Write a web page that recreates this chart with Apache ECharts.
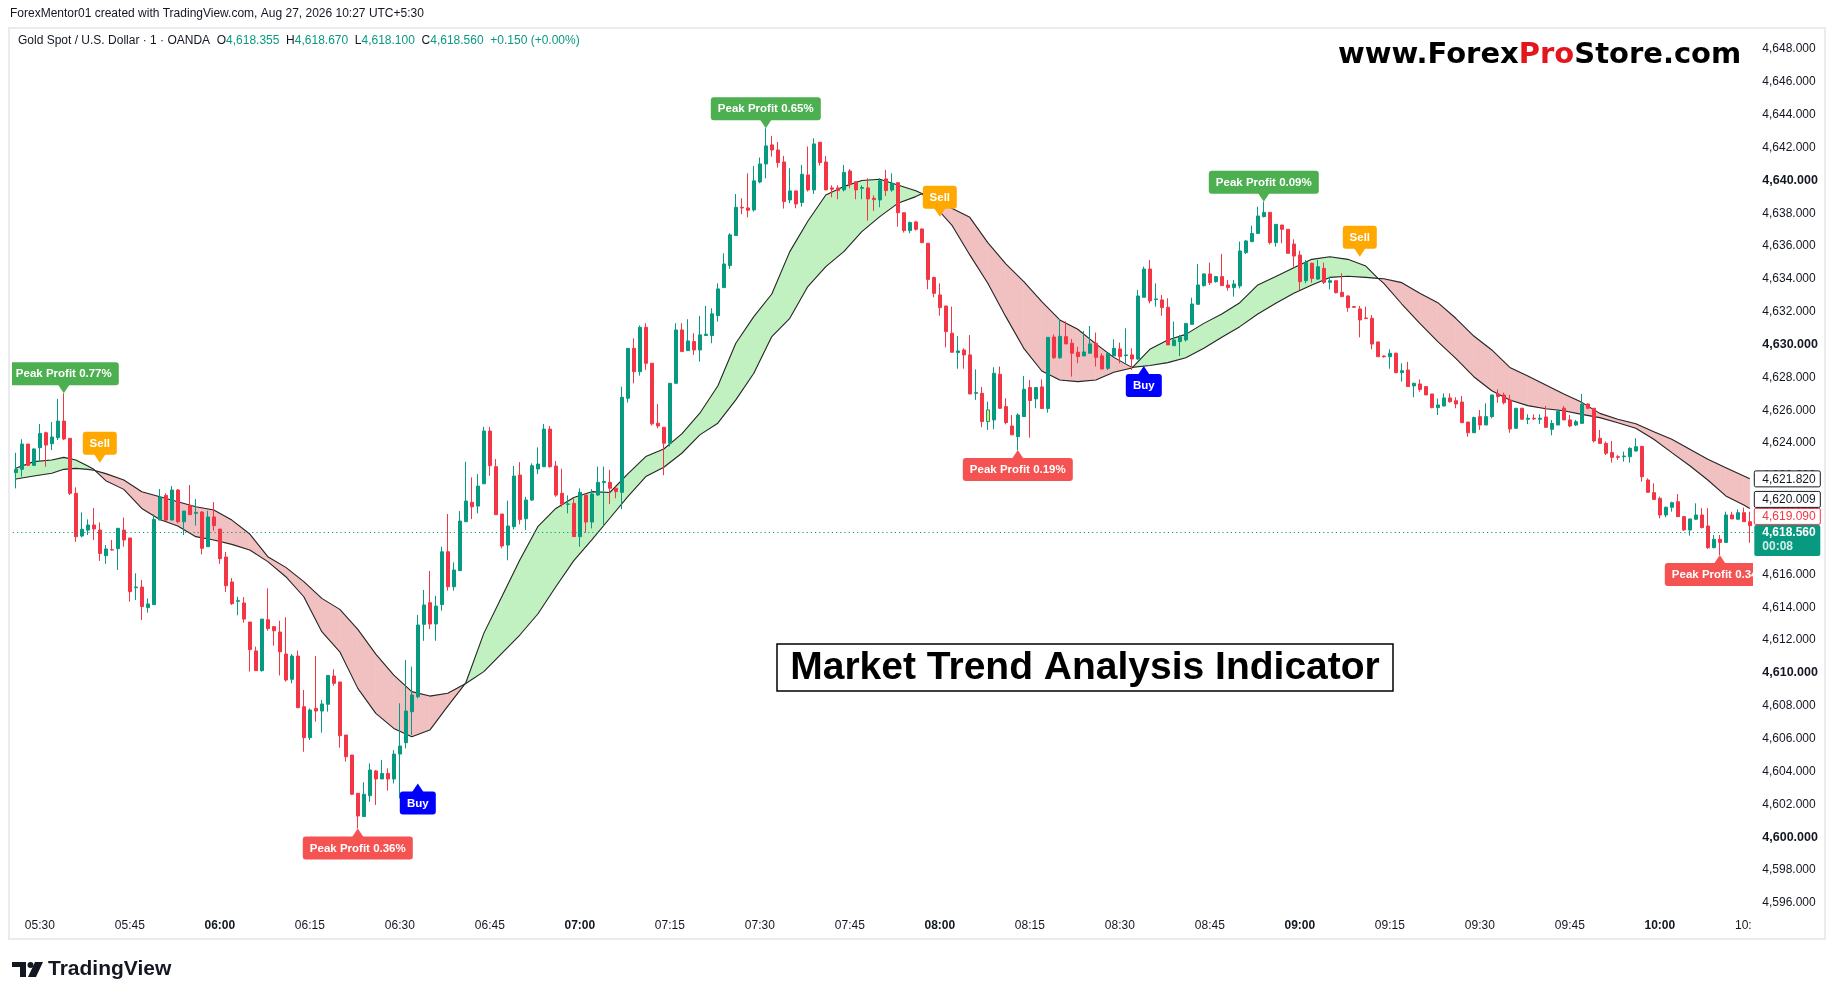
<!DOCTYPE html>
<html><head><meta charset="utf-8">
<script src="https://cdn.jsdelivr.net/npm/echarts@6/dist/echarts.min.js"></script>
<style>html,body{margin:0;padding:0;background:#fff}#c{width:1835px;height:1000px}</style>
</head><body><div id="c"></div>
<script>
// ---------------- DATA ----------------
const HEADER_TEXT = 'ForexMentor01 created with TradingView.com, Aug 27, 2026 10:27 UTC+5:30';
const SYMBOL_NAME = 'Gold Spot / U.S. Dollar · 1 · OANDA';
const OHLC_KEYS = ['O', 'H', 'L', 'C'];
const OHLC_VALUES = ['4,618.355', '4,618.670', '4,618.100', '4,618.560'];
const CHANGE_TEXT = '+0.150 (+0.00%)';
const WATERMARK_PARTS = ['www.Forex', 'Pro', 'Store.com'];
const TITLE_TEXT = 'Market Trend Analysis Indicator';
const BRAND_TEXT = 'TradingView';

const START_TIME = '05:26';   // first 1-minute bar

const openVals = [
4622.20,4622.40,4623.94,4622.64,4623.72,4624.63,4623.96,4624.33,4625.34,4624.29,
4620.94,4618.34,4618.70,4619.01,4618.70,4617.14,4617.51,4617.57,4618.70,4618.22,
4615.19,4615.23,4613.98,4614.16,4619.31,4620.82,4619.31,4621.14,4619.21,4620.19,
4619.72,4619.80,4617.69,4619.50,4618.76,4617.06,4615.54,4614.36,4614.26,4613.10,
4611.34,4610.14,4613.24,4612.82,4612.49,4611.15,4609.61,4611.03,4607.94,4606.06,
4607.84,4607.68,4608.09,4609.81,4609.45,4606.22,4605.00,4602.67,4601.25,4602.52,
4604.03,4603.54,4603.88,4603.54,4605.06,4605.75,4607.64,4608.55,4612.96,4614.28,
4612.98,4614.16,4617.38,4615.25,4616.23,4619.21,4620.39,4620.16,4621.52,4624.73,
4622.56,4619.68,4617.79,4618.91,4622.05,4619.39,4620.53,4622.42,4622.56,4624.85,
4622.60,4620.94,4620.27,4620.33,4618.30,4620.83,4619.19,4620.84,4621.59,4621.61,
4621.25,4621.00,4626.73,4629.77,4628.35,4631.05,4628.86,4625.21,4624.96,4623.99,
4627.64,4630.89,4629.63,4630.18,4629.67,4630.55,4630.55,4631.76,4633.47,4634.81,
4636.64,4638.36,4638.32,4638.20,4639.90,4641.00,4642.16,4641.85,4641.12,4638.81,
4639.36,4638.65,4640.33,4639.42,4642.32,4641.12,4639.54,4639.54,4639.42,4640.57,
4639.92,4639.52,4639.54,4638.91,4638.81,4640.09,4639.41,4639.86,4638.03,4636.94,
4637.47,4637.04,4636.17,4634.08,4633.02,4632.35,4630.69,4629.51,4629.67,4629.37,
4627.03,4627.03,4625.31,4625.41,4628.19,4626.22,4625.04,4624.39,4625.61,4627.38,
4626.69,4627.42,4626.10,4630.46,4629.20,4630.48,4630.08,4629.53,4629.31,4629.47,
4630.08,4629.31,4628.55,4629.31,4629.73,4629.33,4629.37,4629.12,4632.88,4634.60,
4632.74,4632.72,4632.27,4629.93,4630.18,4630.28,4631.23,4632.45,4633.59,4634.30,
4633.83,4634.14,4633.63,4633.47,4633.57,4635.60,4636.27,4636.77,4637.79,4638.05,
4636.21,4637.28,4637.02,4636.12,4635.45,4633.89,4634.95,4633.99,4634.64,4633.79,
4633.89,4633.18,4632.96,4632.31,4632.17,4631.62,4631.60,4630.16,4629.30,4629.26,
4629.47,4628.29,4628.45,4627.48,4627.60,4627.44,4626.99,4626.16,4626.26,4626.75,
4626.58,4626.50,4625.28,4624.63,4625.61,4625.10,4625.61,4626.99,4626.93,4626.62,
4624.90,4626.12,4625.45,4625.51,4625.45,4625.59,4624.84,4625.10,4626.12,4625.41,
4625.10,4625.20,4626.38,4626.12,4624.29,4623.98,4623.42,4623.17,4623.17,4623.17,
4623.52,4623.80,4621.75,4620.98,4620.63,4619.62,4620.09,4620.43,4619.52,4618.71,
4619.36,4619.62,4618.95,4617.63,4618.14,4617.95,4619.62,4619.36,4619.76,4619.21];
const highVals = [
4623.41,4624.23,4623.94,4623.68,4625.16,4624.69,4625.28,4626.68,4627.03,4624.29,
4621.30,4619.78,4619.35,4620.04,4619.17,4617.79,4618.10,4618.81,4619.46,4618.22,
4616.07,4615.66,4614.54,4619.66,4621.20,4620.94,4621.38,4621.20,4619.86,4621.45,
4620.59,4619.86,4619.88,4620.41,4618.76,4617.37,4615.78,4614.64,4614.62,4613.10,
4611.60,4613.28,4615.15,4612.82,4613.18,4613.39,4611.15,4611.36,4608.96,4607.84,
4611.03,4608.35,4609.85,4610.22,4609.45,4606.22,4605.00,4602.67,4603.34,4604.49,
4604.09,4604.70,4604.19,4605.30,4608.15,4610.79,4610.38,4613.53,4615.05,4616.21,
4614.70,4617.69,4619.68,4616.73,4619.86,4622.86,4621.91,4622.11,4624.99,4624.99,
4623.03,4619.68,4620.49,4622.60,4622.84,4620.73,4622.76,4623.74,4625.16,4625.04,
4622.91,4622.44,4620.81,4620.63,4621.24,4620.83,4621.20,4622.57,4622.57,4622.37,
4621.35,4627.44,4629.77,4630.38,4631.16,4631.30,4628.86,4626.38,4624.96,4627.64,
4631.30,4631.30,4631.54,4630.69,4631.74,4632.35,4632.21,4633.73,4635.56,4636.78,
4639.17,4638.91,4640.43,4640.88,4641.39,4643.17,4642.71,4642.34,4641.49,4640.74,
4639.36,4640.94,4642.06,4642.56,4642.32,4641.49,4639.70,4639.70,4640.94,4640.68,
4639.92,4639.70,4640.13,4639.09,4640.13,4640.64,4640.43,4639.86,4638.03,4637.49,
4637.53,4637.08,4636.17,4634.14,4633.73,4632.35,4632.31,4630.52,4629.77,4630.58,
4628.49,4627.42,4626.52,4628.62,4628.66,4626.73,4625.71,4625.81,4628.09,4627.84,
4627.42,4627.88,4630.44,4630.62,4631.54,4631.42,4630.34,4629.87,4630.83,4631.13,
4630.73,4629.47,4629.47,4630.32,4630.12,4630.99,4629.77,4633.33,4634.75,4635.15,
4633.73,4633.02,4632.82,4631.40,4630.58,4631.29,4632.86,4634.91,4634.34,4634.99,
4634.18,4635.52,4633.93,4633.93,4636.27,4636.37,4637.24,4638.40,4638.70,4638.05,
4637.32,4637.28,4637.02,4636.41,4635.72,4635.15,4634.99,4635.15,4634.99,4634.14,
4633.89,4634.34,4633.00,4632.35,4632.35,4632.31,4631.80,4630.16,4629.34,4629.71,
4629.51,4628.86,4628.94,4627.68,4627.88,4627.44,4626.99,4626.71,4627.03,4627.03,
4626.79,4626.87,4625.28,4625.61,4626.01,4626.42,4626.93,4627.27,4627.07,4626.93,
4626.12,4626.12,4625.75,4625.75,4625.75,4626.26,4625.41,4626.01,4626.26,4625.71,
4625.41,4626.99,4626.42,4626.12,4624.80,4624.09,4624.13,4623.27,4623.48,4623.74,
4624.29,4623.82,4621.85,4621.55,4620.74,4620.13,4620.43,4620.90,4619.56,4619.38,
4620.33,4620.03,4620.03,4618.40,4618.40,4619.82,4619.82,4619.96,4620.07,4619.82];
const lowVals = [
4621.24,4621.95,4622.60,4622.60,4622.87,4622.56,4623.58,4624.19,4624.19,4620.84,
4617.99,4618.26,4618.40,4618.10,4616.82,4616.65,4617.45,4616.27,4617.69,4614.34,
4614.44,4613.22,4613.67,4614.16,4619.31,4619.25,4619.31,4619.11,4618.40,4619.64,
4618.97,4617.22,4617.69,4618.66,4616.65,4614.93,4614.14,4613.51,4613.06,4610.08,
4610.14,4610.08,4612.57,4611.66,4609.85,4609.47,4609.37,4607.88,4605.20,4605.91,
4607.03,4606.36,4607.64,4609.22,4605.45,4604.60,4602.57,4600.53,4601.25,4602.16,
4601.96,4603.54,4602.83,4603.27,4602.36,4605.41,4606.22,4608.45,4611.96,4612.67,
4611.96,4613.79,4615.01,4615.01,4616.23,4619.21,4619.37,4619.72,4621.52,4622.01,
4619.64,4617.59,4616.86,4618.74,4619.05,4618.70,4620.47,4622.11,4622.56,4622.50,
4620.73,4620.12,4619.72,4618.30,4617.69,4618.54,4618.80,4620.78,4618.91,4620.29,
4620.64,4619.97,4626.47,4627.64,4628.11,4628.46,4625.07,4624.90,4622.04,4623.79,
4627.64,4629.57,4629.63,4629.37,4628.96,4630.55,4630.08,4631.40,4633.47,4634.61,
4636.64,4637.94,4637.75,4638.10,4639.82,4640.13,4641.45,4640.78,4638.28,4638.61,
4638.30,4638.40,4639.32,4639.17,4640.90,4639.42,4638.97,4638.85,4639.32,4639.52,
4638.85,4638.85,4637.55,4638.14,4638.36,4639.05,4639.31,4637.18,4636.82,4636.78,
4636.94,4636.17,4633.37,4632.88,4631.76,4629.83,4629.53,4628.53,4628.53,4626.99,
4626.63,4624.96,4624.80,4624.84,4626.08,4625.14,4624.50,4623.58,4625.61,4624.33,
4626.12,4626.10,4625.85,4629.12,4629.12,4630.04,4628.05,4628.86,4629.31,4629.47,
4628.66,4628.51,4628.45,4629.27,4628.86,4628.86,4628.45,4629.06,4632.88,4632.51,
4632.31,4631.76,4629.98,4629.93,4629.30,4630.18,4631.23,4632.45,4633.53,4633.63,
4633.77,4633.59,4633.28,4632.92,4633.42,4635.52,4636.23,4636.77,4637.75,4636.10,
4635.96,4636.17,4635.56,4634.74,4633.32,4633.73,4633.77,4633.93,4633.69,4633.36,
4633.12,4632.92,4632.00,4632.23,4630.44,4631.58,4629.71,4629.26,4629.20,4628.53,
4628.25,4627.74,4627.44,4626.79,4627.13,4626.93,4626.12,4625.71,4626.22,4626.46,
4626.12,4625.24,4624.39,4624.63,4624.80,4625.10,4625.51,4626.46,4626.36,4624.63,
4624.86,4625.45,4625.16,4625.41,4625.16,4624.96,4624.47,4625.10,4625.41,4624.96,
4625.04,4625.20,4626.07,4624.04,4623.98,4623.27,4622.81,4622.97,4622.87,4622.81,
4623.48,4621.65,4620.98,4620.53,4619.42,4619.48,4619.82,4619.52,4618.65,4618.36,
4619.32,4618.81,4617.55,4617.59,4617.18,4617.95,4619.38,4619.36,4619.21,4617.93];
const closeVals = [
4622.40,4623.94,4622.64,4623.64,4624.59,4623.88,4624.37,4625.34,4624.25,4620.94,
4618.30,4618.75,4619.01,4618.77,4617.28,4617.55,4617.49,4618.81,4618.10,4614.95,
4615.23,4614.04,4614.20,4619.35,4620.71,4619.31,4621.14,4619.21,4619.86,4619.64,
4619.78,4617.59,4619.50,4618.97,4616.96,4615.31,4614.22,4614.40,4613.28,4611.42,
4610.14,4613.28,4612.70,4612.57,4611.29,4609.57,4611.03,4607.88,4606.06,4607.74,
4607.68,4608.11,4609.85,4609.37,4606.18,4604.90,4602.61,4601.29,4602.61,4604.09,
4603.54,4603.88,4603.54,4605.06,4605.55,4607.68,4608.66,4612.92,4614.14,4612.98,
4614.07,4617.38,4615.25,4616.27,4619.25,4620.47,4620.12,4621.38,4624.73,4622.62,
4619.64,4617.73,4618.95,4621.99,4619.35,4620.53,4622.62,4622.72,4624.85,4622.56,
4620.83,4620.27,4620.29,4618.30,4621.00,4619.19,4620.90,4621.61,4621.66,4621.25,
4621.04,4626.79,4629.77,4628.35,4631.05,4628.86,4625.17,4625.04,4623.99,4627.64,
4630.89,4629.57,4630.22,4629.67,4630.59,4630.63,4631.87,4633.39,4634.91,4636.68,
4638.36,4638.32,4638.18,4639.97,4641.00,4642.10,4641.85,4641.08,4638.71,4639.36,
4638.56,4640.37,4639.42,4642.22,4641.08,4639.42,4639.46,4639.38,4640.49,4639.74,
4639.42,4639.56,4638.87,4638.83,4639.97,4639.38,4639.82,4638.03,4636.94,4637.43,
4637.02,4636.21,4633.97,4633.12,4632.25,4630.79,4629.53,4629.61,4629.37,4626.99,
4627.07,4625.31,4626.02,4628.25,4626.12,4625.25,4624.50,4625.71,4627.28,4626.59,
4627.38,4626.10,4630.44,4629.20,4630.50,4630.04,4629.47,4629.27,4629.55,4630.04,
4629.22,4628.51,4629.47,4629.77,4629.27,4629.37,4629.12,4632.96,4634.60,4632.66,
4632.78,4632.25,4629.98,4630.28,4630.44,4631.29,4632.47,4633.63,4634.30,4633.77,
4634.14,4633.59,4633.47,4633.69,4635.70,4636.31,4636.77,4637.83,4638.05,4636.21,
4637.32,4637.02,4635.56,4635.39,4633.83,4634.99,4634.03,4634.74,4633.79,4633.89,
4633.16,4632.92,4632.25,4632.27,4631.50,4631.58,4630.03,4629.26,4629.26,4629.47,
4628.29,4628.41,4627.44,4627.64,4627.27,4626.93,4626.16,4626.32,4626.75,4626.52,
4626.38,4625.24,4624.63,4625.55,4625.10,4625.61,4626.93,4626.83,4626.46,4624.86,
4626.12,4625.45,4625.51,4625.47,4625.51,4624.96,4625.20,4625.93,4625.41,4625.04,
4625.30,4626.36,4626.12,4624.13,4623.98,4623.38,4623.13,4623.13,4623.21,4623.68,
4623.78,4621.95,4621.00,4620.57,4619.62,4620.09,4620.37,4619.52,4618.71,4619.38,
4619.62,4618.85,4617.63,4618.14,4617.95,4619.62,4619.38,4619.76,4619.21,4618.97];

// trend band (two smoothed lines), sampled at these bar indices
const bandIdx = [0,3,6,8,10,12,13,15,18,21,24,27,30,33,36,39,42,45,48,51,54,57,60,63,66,69,72,75,78,81,84,87,90,93,96,99,102,105,108,111,114,117,120,123,126,129,132,135,138,141,144,147,150,151,153,156,159,162,165,168,171,174,177,180,183,186,189,192,195,198,201,204,207,210,213,216,219,222,225,227,228,231,234,237,240,243,246,249,252,255,258,261,264,267,270,273,276,279,282,285,288,289];
const bandFast = [4622.46,4622.87,4622.97,4623.13,4622.97,4622.60,4622.40,4621.71,4621.18,4620.02,4619.35,4618.95,4618.30,4618.10,4617.83,4617.49,4616.78,4615.86,4614.64,4612.51,4611.29,4609.06,4607.54,4606.62,4606.12,4606.52,4607.98,4609.40,4612.41,4614.64,4616.88,4618.91,4620.02,4620.69,4621.04,4620.99,4622.12,4623.18,4623.64,4624.56,4625.82,4627.48,4630.08,4631.70,4633.08,4635.66,4637.51,4639.11,4639.62,4639.99,4640.07,4639.72,4639.37,4639.20,4638.50,4637.28,4635.46,4633.73,4631.70,4629.77,4628.39,4627.84,4627.74,4627.84,4628.31,4628.57,4629.71,4630.28,4630.62,4631.29,4631.86,4632.55,4633.63,4634.14,4634.68,4635.19,4635.35,4635.19,4634.78,4634.05,4633.73,4632.47,4631.29,4630.18,4629.16,4628.04,4627.19,4626.62,4626.28,4626.09,4625.97,4625.75,4625.55,4625.24,4624.90,4624.23,4623.42,4622.62,4621.75,4620.78,4620.23,4620.01];
const bandSlow = [4621.81,4621.99,4622.16,4622.40,4622.46,4622.40,4622.34,4622.14,4621.75,4621.04,4620.73,4620.43,4620.12,4619.92,4619.31,4618.46,4617.08,4616.43,4615.56,4614.54,4613.87,4612.65,4611.15,4609.87,4608.86,4608.59,4608.76,4609.36,4610.08,4611.19,4612.31,4613.59,4615.25,4616.84,4618.10,4619.42,4620.74,4621.96,4622.53,4623.38,4624.50,4625.21,4626.63,4628.25,4630.49,4631.60,4633.53,4634.75,4635.66,4636.88,4637.79,4638.60,4639.01,4639.18,4638.97,4638.30,4637.75,4636.21,4634.91,4633.83,4632.61,4631.50,4630.93,4630.04,4629.22,4628.61,4628.72,4628.90,4629.20,4629.77,4630.44,4631.09,4631.86,4632.51,4633.12,4633.63,4634.09,4634.16,4634.09,4634.03,4634.01,4633.77,4633.12,4632.55,4631.60,4630.52,4629.67,4628.61,4628.08,4627.54,4626.99,4626.48,4625.81,4625.45,4625.18,4624.69,4624.23,4623.62,4623.01,4622.50,4621.99,4621.82];

// signal labels
const signalIdx   = [8, 14, 57, 67, 125, 154, 167, 188, 208, 224, 284];
const signalPrice = [4627.03, 4622.80, 4600.53, 4603.27, 4643.17, 4637.79, 4623.58, 4628.70, 4638.70, 4635.35, 4617.18];
const signalText  = ['Peak Profit 0.77%','Sell','Peak Profit 0.36%','Buy','Peak Profit 0.65%','Sell','Peak Profit 0.19%','Buy','Peak Profit 0.09%','Sell','Peak Profit 0.34%'];
const signalKind  = ['peakHigh','sell','peakLow','buy','peakHigh','sell','peakLow','buy','peakHigh','sell','peakLow'];

// right-scale price tags (last one = current price)
const tagValues = [4621.820, 4620.009, 4619.090, 4618.560];
const COUNTDOWN = '00:08';

// price-scale tick labels
const yTicks = [4596,4598,4600,4602,4604,4606,4608,4610,4612,4614,4616,4618,4620,4622,4624,4626,4628,4630,4632,4634,4636,4638,4640,4642,4644,4646,4648];
const Y_MIN = 4595.44, Y_MAX = 4649.28;

// ---------------- STYLE ----------------
const UP = '#089981', DOWN = '#f23645', TXT = '#131722';
const FONT = '"Liberation Sans", Arial, sans-serif';
const HIGHLIGHT_BAR = 162;
const UP_FILL = '#c1f0c1', DOWN_FILL = '#f1c1c1';
const SIG_STYLE = {
  peakHigh: {fill: '#4caf50', up: false, w: 110},
  peakLow:  {fill: '#f55252', up: true,  w: 110},
  sell:     {fill: '#ffa800', up: false, w: 34},
  buy:      {fill: '#0000ff', up: true,  w: 36}
};
const TAG_COLORS = ['#131722', '#131722', '#f23645'];

// ---------------- BUILD ----------------
const pad = n => (n < 10 ? '0' : '') + n;
const startMin = parseInt(START_TIME.slice(0, 2), 10) * 60 + parseInt(START_TIME.slice(3), 10);
const times = openVals.map((_, i) => { const t = startMin + i; return pad(Math.floor(t / 60)) + ':' + pad(t % 60); });
const LAST = times.length - 1;

function fmtPrice(v) {
  const s = v.toFixed(3).split('.');
  return s[0].replace(/\B(?=(\d{3})+(?!\d))/g, ',') + '.' + s[1];
}

const candleData = openVals.map((o, i) => {
  const v = [o, closeVals[i], lowVals[i], highVals[i]];
  return i === HIGHLIGHT_BAR ? {value: v, itemStyle: {color: '#f5e44c', borderColor: UP, color0: '#f5e44c', borderColor0: UP}} : v;
});

function renderBand(params, api) {
  const k = params.dataIndex;
  if (k >= bandIdx.length - 1) return null;
  const a0 = api.coord([bandIdx[k], bandFast[k]]), a1 = api.coord([bandIdx[k + 1], bandFast[k + 1]]);
  const b0 = api.coord([bandIdx[k], bandSlow[k]]), b1 = api.coord([bandIdx[k + 1], bandSlow[k + 1]]);
  const d0 = bandFast[k] - bandSlow[k], d1 = bandFast[k + 1] - bandSlow[k + 1];
  const col = d => (d >= 0 ? UP_FILL : DOWN_FILL);
  if (d0 * d1 >= 0) {
    const c = col(d0 + d1);
    return {type: 'polygon', shape: {points: [a0, a1, b1, b0]}, style: {fill: c, stroke: c, lineWidth: 0.6}};
  }
  const t = d0 / (d0 - d1);
  const X = [a0[0] + (a1[0] - a0[0]) * t, a0[1] + (a1[1] - a0[1]) * t];
  return {type: 'group', children: [
    {type: 'polygon', shape: {points: [a0, X, b0]}, style: {fill: col(d0), stroke: col(d0), lineWidth: 0.6}},
    {type: 'polygon', shape: {points: [X, a1, b1]}, style: {fill: col(d1), stroke: col(d1), lineWidth: 0.6}}
  ]};
}

function renderSignal(params, api) {
  const k = params.dataIndex;
  const s = SIG_STYLE[signalKind[k]];
  const p = api.coord([signalIdx[k], signalPrice[k]]);
  const x = p[0], y = p[1];
  const ah = 8, aw = 6, bh = 23;
  const by = s.up ? y + ah : y - ah - bh;
  const tri = s.up ? [[x - aw, y + ah + 1], [x + aw, y + ah + 1], [x, y]]
                   : [[x - aw, y - ah - 1], [x + aw, y - ah - 1], [x, y]];
  return {type: 'group', children: [
    {type: 'polygon', shape: {points: tri}, style: {fill: s.fill}},
    {type: 'rect', shape: {x: x - s.w / 2, y: by, width: s.w, height: bh, r: 3}, style: {fill: s.fill}},
    {type: 'text', style: {text: signalText[k], x: x, y: by + bh / 2 + 0.5, fill: '#ffffff',
      font: 'bold 11.5px ' + FONT, textAlign: 'center', textVerticalAlign: 'middle', align: 'center', verticalAlign: 'middle'}}
  ]};
}

function renderTag(params, api) {
  const k = params.dataIndex;
  const cs = params.coordSys;
  const x0 = cs.x + cs.width + 1.5, W = 66, H = 16, GAP = 1;
  const n = tagValues.length;
  const ys = tagValues.map(v => api.coord([LAST, v])[1]);
  const cy = ys.slice();
  let limit = ys[n - 1] - 7;
  for (let j = n - 2; j >= 0; j--) {
    if (cy[j] + H / 2 > limit - GAP) cy[j] = limit - GAP - H / 2;
    limit = cy[j] - H / 2;
  }
  const label = fmtPrice(tagValues[k]);
  if (k === n - 1) {
    return {type: 'group', children: [
      {type: 'rect', shape: {x: x0, y: ys[k] - 7.5, width: W, height: 31, r: 2}, style: {fill: UP}},
      {type: 'text', style: {text: label, x: x0 + 8, y: ys[k] + 0.5, fill: '#ffffff', font: 'bold 12px ' + FONT,
        textAlign: 'left', textVerticalAlign: 'middle', align: 'left', verticalAlign: 'middle'}},
      {type: 'text', style: {text: COUNTDOWN, x: x0 + 8, y: ys[k] + 14, fill: 'rgba(255,255,255,0.82)', font: 'bold 12px ' + FONT,
        textAlign: 'left', textVerticalAlign: 'middle', align: 'left', verticalAlign: 'middle'}}
    ]};
  }
  return {type: 'group', children: [
    {type: 'rect', shape: {x: x0, y: cy[k] - H / 2, width: W, height: H, r: 1.5}, style: {fill: '#ffffff', stroke: TAG_COLORS[k], lineWidth: 1}},
    {type: 'text', style: {text: label, x: x0 + 8, y: cy[k] + 0.5, fill: TAG_COLORS[k], font: '12px ' + FONT,
      textAlign: 'left', textVerticalAlign: 'middle', align: 'left', verticalAlign: 'middle'}}
  ]};
}

const symbolRich = '{n|' + SYMBOL_NAME + '}  ' +
  OHLC_KEYS.map((k, i) => '{n|' + k + '}{v|' + OHLC_VALUES[i] + '}').join('  ') + '  {v|' + CHANGE_TEXT + '}';

const option = {
  animation: false,
  backgroundColor: '#ffffff',
  grid: {left: 12.8, right: 82.2, top: 28, bottom: 88, containLabel: false, outerBoundsMode: 'none'},
  xAxis: {
    type: 'category', data: times, boundaryGap: true,
    axisLine: {show: false}, axisTick: {show: false}, splitLine: {show: false},
    axisLabel: {
      margin: 8, color: TXT, fontSize: 12, fontFamily: FONT,
      interval: (i, v) => ['00', '15', '30', '45'].indexOf(v.slice(3)) >= 0,
      formatter: (v, i) => {
        if (i === LAST) return '{cut|' + v.slice(0, 3) + '}';
        return v.slice(3) === '00' ? '{b|' + v + '}' : v;
      },
      rich: {
        b: {fontWeight: 'bold', fontSize: 12, fontFamily: FONT, color: TXT},
        cut: {fontSize: 12, fontFamily: FONT, color: TXT, padding: [0, 13, 0, 0]}
      }
    }
  },
  yAxis: {
    type: 'value', position: 'right', min: Y_MIN, max: Y_MAX, scale: true,
    axisLine: {show: false}, axisTick: {show: false}, splitLine: {show: false},
    axisLabel: {
      customValues: yTicks, margin: 9.5, align: 'left', color: TXT, fontSize: 12, fontFamily: FONT,
      formatter: v => (Math.round(v) % 10 === 0 ? '{b|' + fmtPrice(v) + '}' : fmtPrice(v)),
      rich: {b: {fontWeight: 'bold', fontSize: 12.5, fontFamily: FONT, color: TXT}}
    }
  },
  series: [
    {type: 'custom', name: 'bandFill', renderItem: renderBand, z: 1, silent: true, clip: true,
     data: bandIdx.map((x, k) => [x, bandFast[k], bandSlow[k]]), encode: {x: 0, y: [1, 2]}},
    {type: 'line', name: 'fast', data: bandIdx.map((x, k) => [x, bandFast[k]]), symbol: 'none', z: 2, silent: true,
     lineStyle: {color: '#262626', width: 1.1}},
    {type: 'line', name: 'slow', data: bandIdx.map((x, k) => [x, bandSlow[k]]), symbol: 'none', z: 2, silent: true,
     lineStyle: {color: '#262626', width: 1.1}},
    {type: 'candlestick', name: 'XAUUSD', data: candleData, barWidth: 4, z: 3,
     itemStyle: {color: UP, color0: DOWN, borderColor: UP, borderColor0: DOWN, borderWidth: 1},
     markLine: {symbol: ['none', 'none'], silent: true, animation: false, label: {show: false},
       lineStyle: {color: UP, type: [1.2, 3], width: 1.2},
       data: [{yAxis: tagValues[tagValues.length - 1]}]}},
    {type: 'custom', name: 'signals', renderItem: renderSignal, z: 6, silent: true, clip: true,
     data: signalIdx.map((x, k) => [x, signalPrice[k]]), encode: {x: 0, y: 1}},
    {type: 'custom', name: 'priceTags', renderItem: renderTag, z: 10, silent: true, clip: false,
     data: tagValues.map(v => [LAST, v]), encode: {x: 0, y: 1}}
  ],
  graphic: [
    {type: 'rect', silent: true, shape: {x: 9, y: 28, width: 1816, height: 911}, style: {fill: 'none', stroke: '#e9ebef', lineWidth: 2}},
    {type: 'text', silent: true, x: 10, y: 14, style: {text: HEADER_TEXT, fill: TXT, font: '12px ' + FONT, textVerticalAlign: 'middle', verticalAlign: 'middle'}},
    {type: 'text', silent: true, x: 18, y: 41, style: {text: symbolRich, font: '12px ' + FONT, textVerticalAlign: 'middle', verticalAlign: 'middle',
      rich: {n: {fill: TXT, color: TXT, fontSize: 12, fontFamily: FONT}, v: {fill: UP, color: UP, fontSize: 12, fontFamily: FONT}}}},
    {type: 'text', silent: true, x: 1338, y: 55, style: {
      text: '{k|' + WATERMARK_PARTS[0] + '}{r|' + WATERMARK_PARTS[1] + '}{k|' + WATERMARK_PARTS[2] + '}',
      font: 'bold 29px "DejaVu Sans"', textVerticalAlign: 'middle', verticalAlign: 'middle',
      rich: {k: {fill: '#000000', color: '#000000', fontSize: 29, fontWeight: 'bold', fontFamily: '"DejaVu Sans"'},
             r: {fill: '#e3161d', color: '#e3161d', fontSize: 29, fontWeight: 'bold', fontFamily: '"DejaVu Sans"'}}}},
    {type: 'rect', silent: true, shape: {x: 777, y: 644, width: 616, height: 47}, style: {fill: '#ffffff', stroke: '#000000', lineWidth: 1.5}},
    {type: 'text', silent: true, x: 1085, y: 668, style: {text: TITLE_TEXT, fill: '#000000', font: 'bold 39px ' + FONT,
      textAlign: 'center', align: 'center', textVerticalAlign: 'middle', verticalAlign: 'middle'}},
    {type: 'group', silent: true, children: [
      {type: 'rect', shape: {x: 12, y: 962, width: 14, height: 5}, style: {fill: TXT}},
      {type: 'rect', shape: {x: 20, y: 962, width: 6, height: 15}, style: {fill: TXT}},
      {type: 'circle', shape: {cx: 30.5, cy: 965, r: 3}, style: {fill: TXT}},
      {type: 'polygon', shape: {points: [[35, 962], [43, 962], [36, 977], [28, 977]]}, style: {fill: TXT}},
      {type: 'text', x: 48, y: 969, style: {text: BRAND_TEXT, fill: TXT, font: 'bold 21px ' + FONT, textVerticalAlign: 'middle', verticalAlign: 'middle'}}
    ]}
  ]
};

const chart = echarts.init(document.getElementById('c'), null, {renderer: 'canvas'});
chart.setOption(option);
</script></body></html>
